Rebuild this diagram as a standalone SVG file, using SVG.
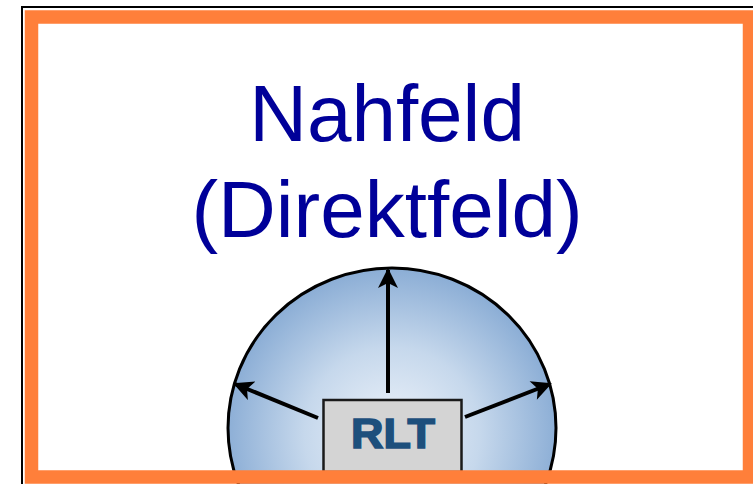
<svg xmlns="http://www.w3.org/2000/svg" width="753" height="484" viewBox="0 0 753 484">
<style>
.title{font-family:"Liberation Sans",Arial,sans-serif;font-size:80px;fill:#000099;text-anchor:middle}
.arrow{stroke:#000;stroke-width:4;fill:none}
.rlt{font-family:"Liberation Sans",Arial,sans-serif;font-weight:bold;font-size:42px;fill:#1d4f7c;stroke:#1d4f7c;stroke-width:1.6;text-anchor:middle}
</style>
<defs>
<radialGradient id="sky" cx="392" cy="435" r="175" gradientUnits="userSpaceOnUse">
<stop offset="0" stop-color="#eef3fa"/>
<stop offset="0.5" stop-color="#c6d8ec"/>
<stop offset="1" stop-color="#85a9d3"/>
</radialGradient>
<marker id="ah" viewBox="0 0 10 10" refX="9" refY="5" markerWidth="5.5" markerHeight="5" orient="auto" markerUnits="strokeWidth">
<path d="M0,0 L10,5 L0,10 L2.5,5 Z" fill="#000"/>
</marker>
</defs>
<rect x="0" y="0" width="753" height="484" fill="#fff"/>
<g id="frame-black">
<path d="M22,484 L22,7 L753,7" fill="none" stroke="#000" stroke-width="2"/>
</g>
<g id="field">
<ellipse cx="392" cy="428" rx="164" ry="160" fill="url(#sky)" stroke="#000" stroke-width="3"/>
</g>
<g id="connectors">
<line class="arrow" x1="388" y1="393" x2="388" y2="270" marker-end="url(#ah)"/>
<line class="arrow" x1="318" y1="418" x2="235" y2="384" marker-end="url(#ah)"/>
<line class="arrow" x1="465" y1="417" x2="550" y2="384" marker-end="url(#ah)"/>
</g>
<g id="rlt">
<rect x="323.5" y="400" width="138" height="72" fill="#d4d4d4" stroke="#1a1a1a" stroke-width="2.5"/>
<text class="rlt" x="393" y="448" textLength="84" lengthAdjust="spacingAndGlyphs">RLT</text>
</g>
<g id="title">
<text class="title" x="387" y="141">Nahfeld</text>
<text class="title" x="387" y="237">(Direktfeld)</text>
</g>
<g id="frame-orange">
<rect x="31.5" y="17" width="718" height="460" fill="none" stroke="#ff7f3a" stroke-width="13.5"/>
</g>
</svg>
